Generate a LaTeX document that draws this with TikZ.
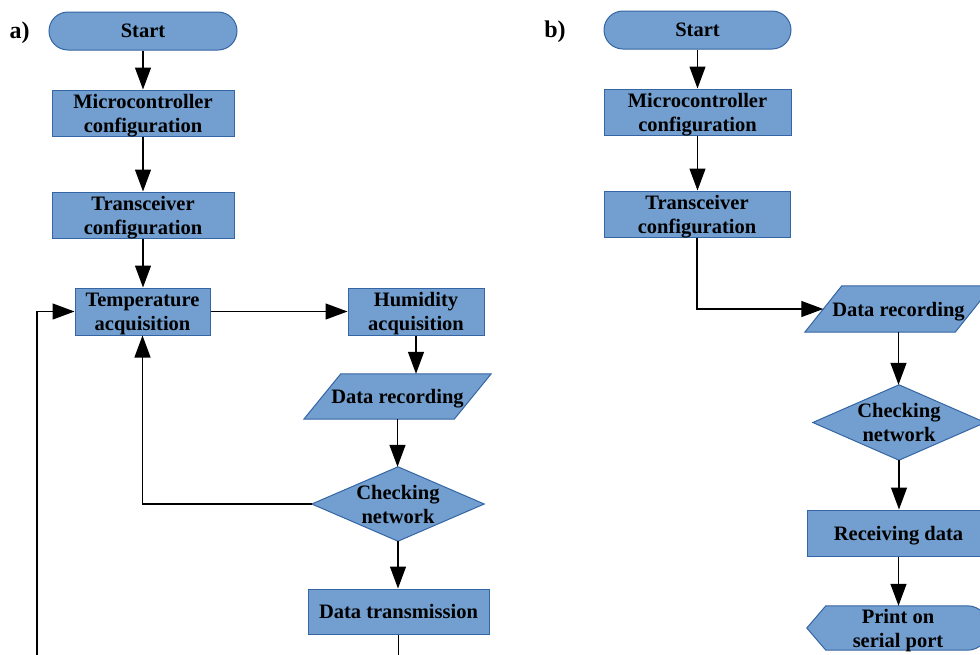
\documentclass[tikz,border=0pt]{standalone}
\usepackage{fontspec}
\setmainfont{Liberation Serif}
\usetikzlibrary{arrows.meta,calc,backgrounds}
\definecolor{boxfill}{HTML}{729FCF}
\definecolor{boxline}{HTML}{3465A4}
\begin{document}
\begin{tikzpicture}[x=1pt,y=-1pt,
  base/.style={font=\fontsize{20.5}{24}\selectfont\bfseries, align=center, inner sep=0pt, text=black, text depth=0pt},
  procbox/.style={base, rectangle, draw=boxline, fill=boxfill, line width=1pt},
  termbox/.style={procbox, rounded corners=19pt},
  shapeonly/.style={base, rectangle},
  shapedraw/.style={draw=boxline, fill=boxfill, line width=1pt, line join=miter},
  conn/.style={line width=1.3pt, -{Triangle[length=22pt,width=16pt]}},
  panellabel/.style={font=\fontsize{24}{28}\selectfont\bfseries, inner sep=0pt}
]
\useasboundingbox (0,0) rectangle (980,654);
\clip (0,0) rectangle (980,654);

% ---------- panel a ----------
\node[panellabel] (labA) at (19.5,33) {a)};
\node[termbox, minimum width=188pt, minimum height=38pt] (startA) at (143,31) {Start};
\node[procbox, minimum width=182pt, minimum height=46pt] (mcA) at (143,113) {Microcontroller\\configuration};
\node[procbox, minimum width=182pt, minimum height=46pt] (trA) at (143,215) {Transceiver\\configuration};
\node[procbox, minimum width=135pt, minimum height=47pt] (tempA) at (142.5,311.5) {Temperature\\acquisition};
\node[procbox, minimum width=136pt, minimum height=47pt] (humA) at (416,311.5) {Humidity\\acquisition};
\node[shapeonly, minimum width=150pt, minimum height=45pt] (drA) at (397.5,396.5) {Data recording};
\node[shapeonly, minimum width=172pt, minimum height=74pt] (dA) at (398,504) {Checking\\network};
\node[procbox, minimum width=181pt, minimum height=45pt] (dtA) at (398.5,611.5) {Data transmission};
\coordinate (loopA) at (37,690);

% ---------- panel b ----------
\node[panellabel] (labB) at (555,32) {b)};
\node[termbox, minimum width=187pt, minimum height=38pt] (startB) at (697.5,30) {Start};
\node[procbox, minimum width=187pt, minimum height=46pt] (mcB) at (697.5,112) {Microcontroller\\configuration};
\node[procbox, minimum width=186pt, minimum height=46pt] (trB) at (697,214) {Transceiver\\configuration};
\node[shapeonly, minimum width=150pt, minimum height=46pt] (drB) at (898.5,309) {Data recording};
\node[shapeonly, minimum width=172pt, minimum height=75pt] (dB) at (899,422.5) {Checking\\network};
\node[procbox, minimum width=183pt, minimum height=46pt] (rdB) at (898.5,533) {Receiving data};
\node[shapeonly, minimum width=182pt, minimum height=44pt] (prB) at (898,628) {Print on\\serial port};

% ---------- shapes behind text ----------
\begin{pgfonlayer}{background}
\clip (0,0) rectangle (980,654);
\path[shapedraw] ($(drA.south west)+(-18.5,0)$) -- ($(drA.north west)+(18.5,0)$)
  -- ($(drA.north east)+(18.5,0)$) -- ($(drA.south east)+(-18.5,0)$) -- cycle;
\path[shapedraw] (dA.west) -- (dA.north) -- (dA.east) -- (dA.south) -- cycle;
\path[shapedraw] ($(drB.south west)+(-18.5,0)$) -- ($(drB.north west)+(18.5,0)$)
  -- ($(drB.north east)+(18.5,0)$) -- ($(drB.south east)+(-18.5,0)$) -- cycle;
\path[shapedraw] (dB.west) -- (dB.north) -- (dB.east) -- (dB.south) -- cycle;
\path[shapedraw] (prB.west) -- ($(prB.north west)+(19,0)$) -- ($(prB.north east)+(-22,0)$)
  to[out=0,in=90] (prB.east) to[out=-90,in=0] ($(prB.south east)+(-22,0)$)
  -- ($(prB.south west)+(19,0)$) -- cycle;
\end{pgfonlayer}

% ---------- connectors a ----------
\draw[conn] (startA.south) -- (mcA.north);
\draw[conn] (mcA.south) -- (trA.north);
\draw[conn] (trA.south) -- (trA.south |- tempA.north);
\draw[conn] (tempA.east) -- (humA.west);
\draw[conn] (humA.south) -- (humA.south |- drA.north);
\draw[conn] (drA.south) -- (drA.south |- dA.north);
\draw[conn] (dA.west) -| (tempA.south);
\draw[conn] (dA.south) -- (dA.south |- dtA.north);
\draw[conn] (dtA.south) |- (loopA) |- (tempA.west);

% ---------- connectors b ----------
\draw[conn] (startB.south) -- (startB.south |- mcB.north);
\draw[conn] (mcB.south) -- (mcB.south |- trB.north);
\draw[conn] (trB.south) |- (drB.west);
\draw[conn] (drB.south) -- (drB.south |- dB.north);
\draw[conn] (dB.south) -- (dB.south |- rdB.north);
\draw[conn] (rdB.south) -- (rdB.south |- prB.north);
\end{tikzpicture}
\end{document}
